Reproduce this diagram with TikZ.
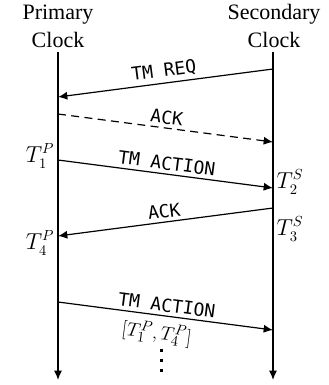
\documentclass[tikz,border=0pt]{standalone}
\usepackage{fontspec}
\setmainfont{Liberation Serif}
\setmonofont{DejaVu Sans Mono}
\usetikzlibrary{arrows.meta}
\begin{document}
\begin{tikzpicture}[x=0.75pt,y=-0.75pt,
  life/.style={line width=0.9pt,-{Latex[length=7pt,width=6pt]}},
  msg/.style={line width=0.9pt,-{Latex[length=7pt,width=6pt]}},
  lbl/.style={font=\fontsize{13.5}{15}\ttfamily,sloped,inner sep=2.5pt},
  ttl/.style={font=\fontsize{16.5}{21}\selectfont,align=center},
  tm/.style={font=\fontsize{16}{18}\selectfont,inner sep=0pt}]
\useasboundingbox (0,0) rectangle (328,385);
\node[ttl] (prim) at (58,26) {Primary\\Clock};
\node[ttl] (sec) at (274,26) {Secondary\\Clock};
\coordinate (ltop) at (58,52);
\coordinate (lbot) at (58,380);
\coordinate (rtop) at (273,52);
\coordinate (rbot) at (273,380);
\draw[life] (ltop) -- (lbot);
\draw[life] (rtop) -- (rbot);
% messages
\coordinate (r1) at (273,69);  \coordinate (l1) at (58,97);
\coordinate (l2) at (58,114);  \coordinate (r2) at (273,142);
\coordinate (l3) at (58,160);  \coordinate (r3) at (273,188);
\coordinate (r4) at (273,208); \coordinate (l4) at (58,236);
\coordinate (l5) at (58,302);  \coordinate (r5) at (273,330);
\draw[msg] (r1) -- node[lbl,above] {TM REQ} (l1);
\draw[msg,dashed,dash pattern=on 6pt off 4pt] (l2) -- node[lbl,above] {ACK} (r2);
\draw[msg] (l3) -- node[lbl,above] {TM ACTION} (r3);
\draw[msg] (r4) -- node[lbl,above] {ACK} (l4);
\draw[msg] (l5) -- node[lbl,above] (tma) {TM ACTION}
  node[lbl,below,pos=0.47,inner sep=5pt,font=\fontsize{15}{17}\selectfont] (tl) {$[T_1^P,T_4^P]$} (r5);
\node[tm] (t1) at (40,156) {$T_1^P$};
\node[tm] (t2) at (290,182) {$T_2^S$};
\node[tm] (t3) at (290,229) {$T_3^S$};
\node[tm] (t4) at (40,243) {$T_4^P$};
\foreach \yy in {349,359,369} \fill (160,\yy) rectangle ++(3,3);
\end{tikzpicture}
\end{document}
